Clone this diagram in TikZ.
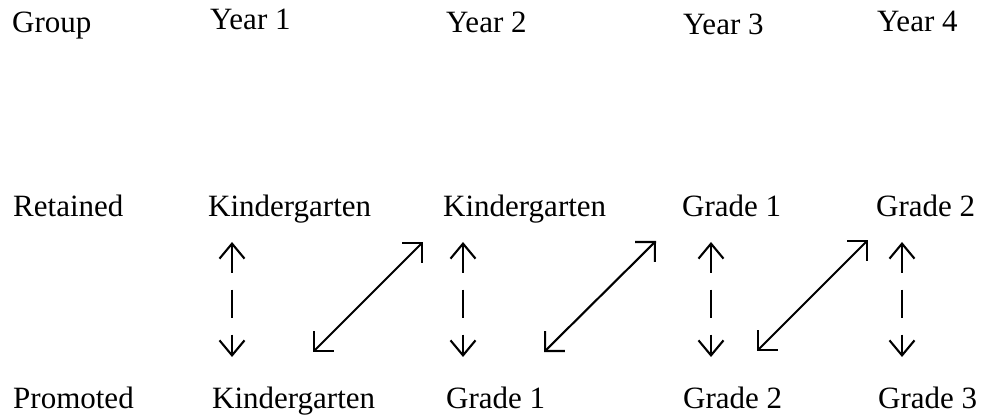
\documentclass[tikz,border=0pt]{standalone}
\usepackage{fontspec}
\setmainfont{Liberation Serif}
\usetikzlibrary{arrows.meta}
\begin{document}
\begin{tikzpicture}[x=1pt,y=-1pt,
  lbl/.style={anchor=base west,inner sep=0pt,font=\fontsize{31}{31}\selectfont},
  vlink/.style={line width=2.1pt,dash pattern=on 28pt off 17pt,{Straight Barb[length=15pt,width=25pt]}-{Straight Barb[length=15pt,width=25pt]}},
  dlink/.style={line width=2.1pt,{Straight Barb[length=14pt,width=28pt]}-{Straight Barb[length=14pt,width=28pt]}}]
\useasboundingbox (0,0) rectangle (987,419);
% header
\node[lbl] (hg) at (12,33) {Group};
\node[lbl] (h1) at (210,30) {Year 1};
\node[lbl] (h2) at (446,33) {Year 2};
\node[lbl] (h3) at (683,35) {Year 3};
\node[lbl] (h4) at (877,32) {Year 4};
% retained
\node[lbl] (rg) at (13,217) {Retained};
\node[lbl] (r1) at (208,217) {Kindergarten};
\node[lbl] (r2) at (443,217) {Kindergarten};
\node[lbl] (r3) at (682,217) {Grade 1};
\node[lbl] (r4) at (876,217) {Grade 2};
% promoted
\node[lbl] (pg) at (13,408) {Promoted};
\node[lbl] (p1) at (212,408) {Kindergarten};
\node[lbl] (p2) at (446,408) {Grade 1};
\node[lbl] (p3) at (683,408) {Grade 2};
\node[lbl] (p4) at (878,408) {Grade 3};
% arrow ends
\coordinate (v1t) at (232,242); \coordinate (v1b) at (232,357);
\coordinate (v2t) at (463,242); \coordinate (v2b) at (463,357);
\coordinate (v3t) at (711,242); \coordinate (v3b) at (711,357);
\coordinate (v4t) at (902,242); \coordinate (v4b) at (902,357);
\coordinate (d1b) at (313,352); \coordinate (d1t) at (423,242);
\coordinate (d2b) at (544,352); \coordinate (d2t) at (656,241);
\coordinate (d3b) at (757,351); \coordinate (d3t) at (868,240);
\draw[vlink] (v1t) -- (v1b);
\draw[vlink] (v2t) -- (v2b);
\draw[vlink] (v3t) -- (v3b);
\draw[vlink] (v4t) -- (v4b);
\draw[dlink] (d1b) -- (d1t);
\draw[dlink] (d2b) -- (d2t);
\draw[dlink] (d3b) -- (d3t);
\end{tikzpicture}
\end{document}
